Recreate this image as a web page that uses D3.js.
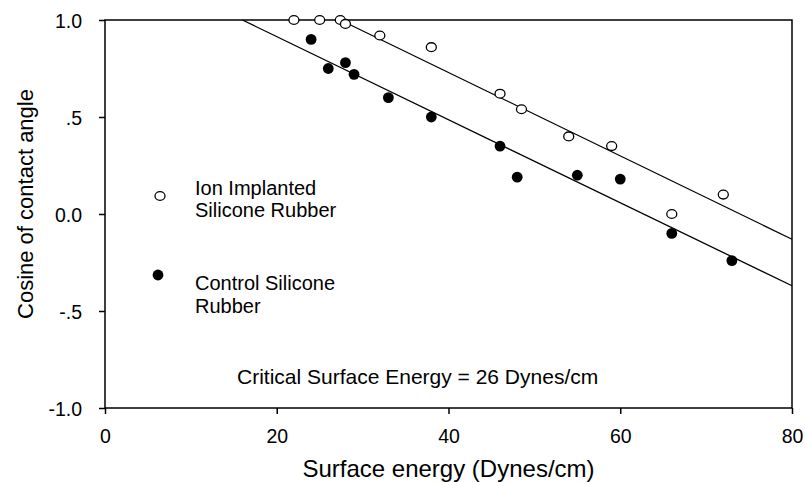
<!DOCTYPE html>
<html>
<head>
<meta charset="utf-8">
<script src="https://cdn.jsdelivr.net/npm/d3@7"></script>
<style>
  body { margin: 0; background: #fff; }
  text { font-family: "Liberation Sans", Arial, sans-serif; fill: #000; }
</style>
</head>
<body>
<script>
// surface energy (Dynes/cm) and cosine of contact angle
var ionX = [22, 25, 27.4, 28, 32, 38, 46, 48.5, 54, 59, 66, 72];
var ionY = [1.0, 1.0, 1.0, 0.98, 0.92, 0.86, 0.62, 0.54, 0.40, 0.35, 0.0, 0.10];
var ctrlX = [24, 26, 28, 29, 33, 38, 46, 48, 55, 60, 66, 73];
var ctrlY = [0.90, 0.75, 0.78, 0.72, 0.60, 0.50, 0.35, 0.19, 0.20, 0.18, -0.10, -0.24];

// fitted lines (end points)
var ionFit = [[27.4, 1.0], [80, -0.13]];
var ctrlFit = [[16, 1.0], [80, -0.37]];

var xTicks = [0, 20, 40, 60, 80];
var yTicks = [-1.0, -0.5, 0.0, 0.5, 1.0];
var yTickLabels = ["-1.0", "-.5", "0.0", ".5", "1.0"];

var width = 805, height = 482;
var margin = {left: 105, right: 13, top: 20, bottom: 74};

var svg = d3.select("body").append("svg")
    .attr("width", width)
    .attr("height", height);

var x = d3.scaleLinear().domain([0, 80]).range([margin.left, width - margin.right]);
var y = d3.scaleLinear().domain([-1, 1]).range([height - margin.bottom, margin.top]);

// frame
svg.append("rect")
    .attr("x", x(0)).attr("y", y(1))
    .attr("width", x(80) - x(0)).attr("height", y(-1) - y(1))
    .attr("fill", "none").attr("stroke", "#000").attr("stroke-width", 1.5);

// axes
var xAxis = svg.append("g")
    .attr("transform", "translate(0," + y(-1) + ")")
    .call(d3.axisBottom(x).tickValues(xTicks).tickSize(6).tickPadding(15).tickFormat(d3.format("d")));
var yAxis = svg.append("g")
    .attr("transform", "translate(" + x(0) + ",0)")
    .call(d3.axisLeft(y).tickValues(yTicks).tickSize(6).tickPadding(17)
        .tickFormat(function(d, i) { return yTickLabels[i]; }));

[xAxis, yAxis].forEach(function(a) {
    a.select(".domain").remove();
    a.selectAll("line").attr("stroke", "#000").attr("stroke-width", 1.5);
    a.selectAll("text").style("font-family", "Liberation Sans, Arial, sans-serif")
        .style("font-size", "19.5px").attr("fill", "#000");
});
yAxis.selectAll("text").attr("dy", "0.4em");

// fit lines
var line = d3.line().x(function(d) { return x(d[0]); }).y(function(d) { return y(d[1]); });
[ionFit, ctrlFit].forEach(function(f) {
    svg.append("path").attr("d", line(f))
        .attr("fill", "none").attr("stroke", "#000").attr("stroke-width", 1.3);
});

// points
svg.append("g").selectAll("circle")
    .data(ionX.map(function(v, i) { return [v, ionY[i]]; }))
    .enter().append("ellipse")
    .attr("cx", function(d) { return x(d[0]); })
    .attr("cy", function(d) { return y(d[1]); })
    .attr("rx", 5).attr("ry", 4.4)
    .attr("fill", "#fff").attr("stroke", "#000").attr("stroke-width", 1.3);

svg.append("g").selectAll("circle")
    .data(ctrlX.map(function(v, i) { return [v, ctrlY[i]]; }))
    .enter().append("circle")
    .attr("cx", function(d) { return x(d[0]); })
    .attr("cy", function(d) { return y(d[1]); })
    .attr("r", 5.4)
    .attr("fill", "#000");

// legend
svg.append("ellipse").attr("cx", 160).attr("cy", 196).attr("rx", 5).attr("ry", 4.4)
    .attr("fill", "#fff").attr("stroke", "#000").attr("stroke-width", 1.3);
svg.append("circle").attr("cx", 158).attr("cy", 275).attr("r", 5.4).attr("fill", "#000");

var legendText = [
    ["Ion Implanted", 195], ["Silicone Rubber", 217],
    ["Control Silicone", 289.5], ["Rubber", 313]
];
legendText.forEach(function(t) {
    svg.append("text").attr("x", 195).attr("y", t[1])
        .style("font-size", "20px").text(t[0]);
});

svg.append("text").attr("x", 237).attr("y", 383.5)
    .style("font-size", "21px")
    .text("Critical Surface Energy = 26 Dynes/cm");

// axis titles
svg.append("text")
    .attr("x", (x(0) + x(80)) / 2).attr("y", 477)
    .attr("text-anchor", "middle")
    .style("font-size", "24px")
    .text("Surface energy (Dynes/cm)");

svg.append("text")
    .attr("transform", "translate(33,204) rotate(-90)")
    .attr("text-anchor", "middle")
    .style("font-size", "22px")
    .text("Cosine of contact angle");
</script>
</body>
</html>
